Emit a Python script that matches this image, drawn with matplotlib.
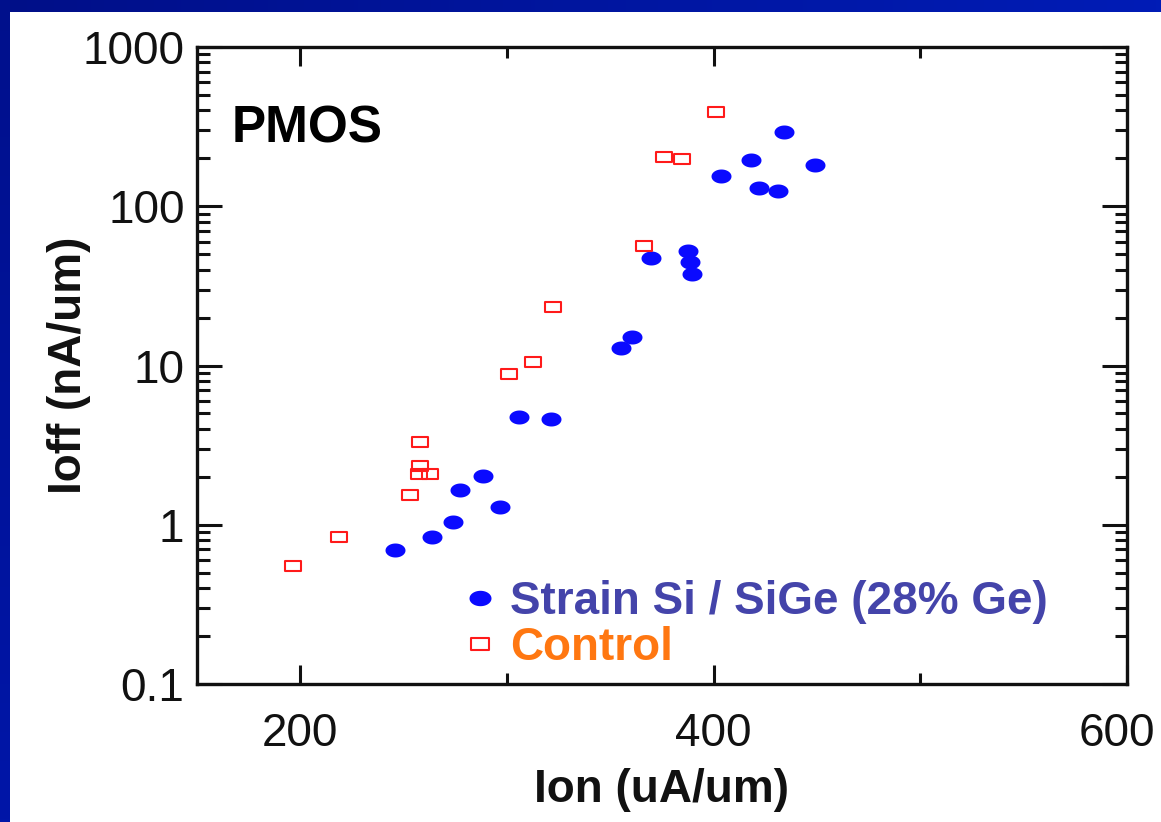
import matplotlib
matplotlib.use("Agg")
import matplotlib.pyplot as plt
import matplotlib.transforms as mtransforms
import numpy as np
from matplotlib.path import Path
from matplotlib.ticker import FixedLocator, LogLocator, NullFormatter

plt.rcParams['font.family'] = ['Liberation Sans', 'DejaVu Sans']

# Strain Si / SiGe (28% Ge)
strain_ion = [245.7, 263.6, 274.0, 277.2, 288.5, 296.4, 305.6, 321.3, 355.1, 360.5,
              369.6, 387.4, 388.5, 389.5, 403.4, 418.2, 421.8, 431.0, 433.9, 448.9]
strain_ioff = [0.694, 0.838, 1.036, 1.653, 2.024, 1.287, 4.73, 4.61, 12.94, 15.04,
               47.1, 52.1, 44.7, 37.4, 154.2, 196.1, 130.8, 125.2, 293.9, 180.8]

# Control
ctrl_ion = [196.5, 218.6, 253.3, 258.0, 257.8, 257.2, 262.8, 300.8, 312.8, 322.1,
            366.1, 376.0, 384.8, 400.9]
ctrl_ioff = [0.551, 0.841, 1.537, 3.31, 2.34, 2.08, 2.08, 8.84, 10.47, 23.4,
             56.5, 204.7, 198.8, 389.0]

x_ticks = [200, 400, 600]
x_minor = [300, 500]
y_ticks = [0.1, 1, 10, 100, 1000]
y_labels = ['0.1', '1', '10', '100', '1000']

# ellipse and flat rectangle markers
t = np.linspace(0, 2 * np.pi, 60)
ellipse = Path(np.column_stack([np.cos(t), 0.7 * np.sin(t)]), closed=True)
rect = Path([(-1, -0.68), (1, -0.68), (1, 0.68), (-1, 0.68), (-1, -0.68)], closed=True)

fig = plt.figure(figsize=(11.61, 8.22), dpi=100)

# blue slide frame (top and left strips)
top = fig.add_axes([0, 1 - 12 / 822, 1, 12 / 822])
top.imshow(np.linspace(0, 1, 256)[None, :], aspect='auto',
           cmap=matplotlib.colors.LinearSegmentedColormap.from_list('b', ['#000f88', '#001cb6']))
top.axis('off')
left = fig.add_axes([0, 0, 10 / 1161, 1])
left.imshow(np.linspace(0, 1, 256)[:, None], aspect='auto',
            cmap=matplotlib.colors.LinearSegmentedColormap.from_list('b2', ['#00108c', '#0016a8']))
left.axis('off')

ax = fig.add_axes([197 / 1161, 138 / 822, 930 / 1161, 637 / 822])

ax.plot(strain_ion, strain_ioff, linestyle='none', marker=ellipse, markersize=14.4,
        color='#0a0aff', markeredgewidth=0, label='Strain Si / SiGe (28% Ge)')
ax.plot(ctrl_ion, ctrl_ioff, linestyle='none', marker=rect, markersize=11.2,
        markerfacecolor='none', markeredgecolor='#ff1a1a', markeredgewidth=1.5,
        label='Control')

ax.set_yscale('log')
ax.set_xlim(150, 600)
ax.set_ylim(0.1, 1000)

ax.xaxis.set_major_locator(FixedLocator(x_ticks))
ax.xaxis.set_minor_locator(FixedLocator(x_minor))
ax.set_xticklabels([str(v) for v in x_ticks])
ax.yaxis.set_major_locator(FixedLocator(y_ticks))
ax.set_yticklabels(y_labels)
ax.yaxis.set_minor_locator(LogLocator(base=10, subs=np.arange(2, 10), numticks=20))
ax.yaxis.set_minor_formatter(NullFormatter())

ax.tick_params(which='both', direction='in', top=True, right=True, width=2.2,
               labelsize=33, colors='#111111')
ax.tick_params(axis='x', which='major', length=14, pad=20)
ax.tick_params(axis='x', which='minor', length=8)
ax.tick_params(axis='y', which='major', length=18, pad=9)
ax.tick_params(axis='y', which='minor', length=9)
for s in ax.spines.values():
    s.set_linewidth(2.4)
    s.set_color('#111111')

# the "600" label sits a little left of its tick, inside the slide
last = ax.get_xticklabels()[-1]
last.set_transform(last.get_transform() +
                   mtransforms.ScaledTranslation(-0.10, 0, fig.dpi_scale_trans))

ax.set_xlabel('Ion (uA/um)', fontsize=33, fontweight='bold', color='#111111', labelpad=9)
ax.set_ylabel('Ioff (nA/um)', fontsize=33, fontweight='bold', color='#111111', labelpad=-6)

ax.text(0.037, 0.85, 'PMOS', transform=ax.transAxes, fontsize=37,
        fontweight='bold', color='black')

ax.legend(loc='upper left', bbox_to_anchor=(0.29, 0.163), frameon=False,
          prop={'weight': 'bold', 'size': 33}, markerscale=1.1,
          labelcolor=['#4444aa', '#ff7711'], handlelength=0.6, handletextpad=0.35,
          labelspacing=0.05, borderpad=0, borderaxespad=0)

fig.savefig('out.png', dpi=100)
